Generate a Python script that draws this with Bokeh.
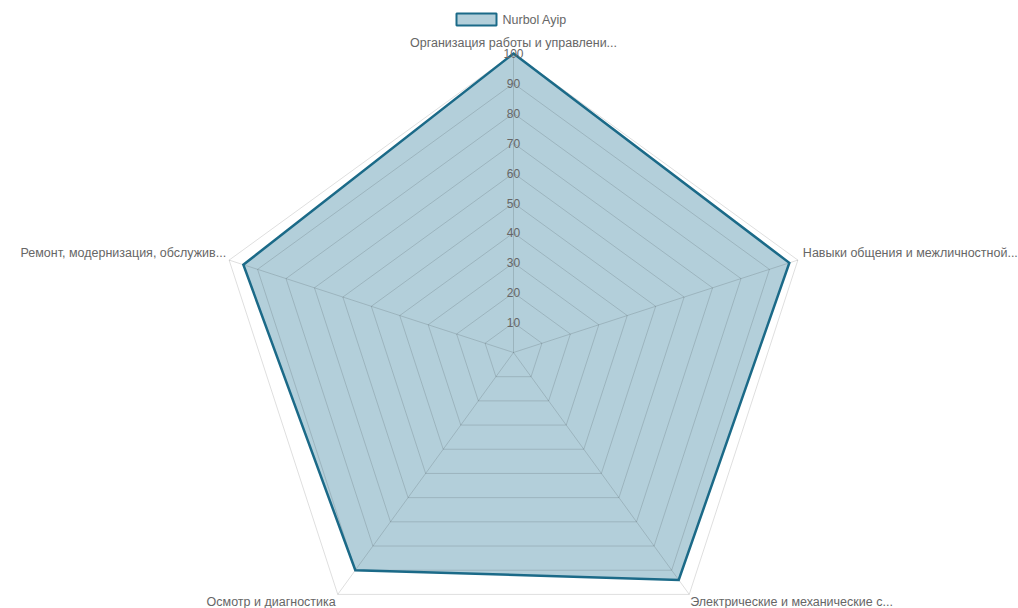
import numpy as np
from bokeh.plotting import figure
from bokeh.models import Range1d
from bokeh.core.properties import value
from bokeh.embed import file_html
from bokeh.resources import INLINE

# ---- data ----
labels = [
    "Организация работы и управлени...",
    "Навыки общения и межличностной...",
    "Электрические и механические с...",
    "Осмотр и диагностика",
    "Ремонт, модернизация, обслужив...",
]
scores = [100, 97, 94, 90, 95]
ticks = [10, 20, 30, 40, 50, 60, 70, 80, 90, 100]
series_name = "Nurbol Ayip"

# ---- layout (image pixel coords) ----
W, H = 1018, 608
CX, CY, R = 513, 352, 299
SCALE = R / 100.0
FONT = "Liberation Sans"
STROKE = "#1b6a88"
FILL = "#b3cfda"
GRID = "#000000"
TXT = "#666666"

n = len(labels)
theta = np.array([2 * np.pi * i / n for i in range(n)])


def polar(v, th):
    return CX + v * SCALE * np.sin(th), CY - v * SCALE * np.cos(th)


p = figure(width=W, height=H, output_backend="svg", toolbar_location=None,
           x_range=Range1d(0, W), y_range=Range1d(H, 0),
           min_border=0, background_fill_color="white")
p.axis.visible = False
p.xgrid.visible = False
p.ygrid.visible = False
p.outline_line_color = None

# data polygon fill
dx, dy = polar(np.array(scores, dtype=float), theta)
p.patch(list(dx), list(dy), fill_color=FILL, fill_alpha=1.0, line_color=None)

# grid polygons
gx, gy = [], []
for t in ticks:
    xs, ys = polar(t, theta)
    gx.append(list(xs) + [xs[0]])
    gy.append(list(ys) + [ys[0]])
p.multi_line(gx, gy, line_color=GRID, line_alpha=0.13, line_width=1)

# spokes
sx, sy = [], []
for th in theta:
    x1, y1 = polar(max(ticks), th)
    sx.append([CX, x1])
    sy.append([CY, y1])
p.multi_line(sx, sy, line_color=GRID, line_alpha=0.13, line_width=1)

# data outline
p.patch(list(dx), list(dy), fill_color=None, line_color=STROKE,
        line_width=2.5, line_join="miter")

# tick labels
tx = [CX] * len(ticks)
ty = [CY - t * SCALE for t in ticks]
p.text(tx, ty, text=[str(t) for t in ticks], text_align="center",
       text_baseline="middle", text_font=value(FONT),
       text_font_size="12px", text_color=TXT)

# point labels
offsets = [(0, -11, "center"), (5, -7.5, "left"), (1, 8, "left"),
           (-2, 8, "right"), (-3, -7.5, "right")]
for i, lab in enumerate(labels):
    vx, vy = polar(max(ticks), theta[i])
    ox, oy, al = offsets[i]
    p.text([vx + ox], [vy + oy], text=[lab], text_align=al,
           text_baseline="middle", text_font=value(FONT),
           text_font_size="12.5px", text_color=TXT)

# legend
p.quad(left=[456], right=[496], top=[13], bottom=[25], fill_color=FILL,
       line_color=STROKE, line_width=2)
p.text([502], [19], text=[series_name], text_align="left",
       text_baseline="middle", text_font=value(FONT),
       text_font_size="12.5px", text_color=TXT)

open("out.html", "w").write(file_html(p, INLINE))
